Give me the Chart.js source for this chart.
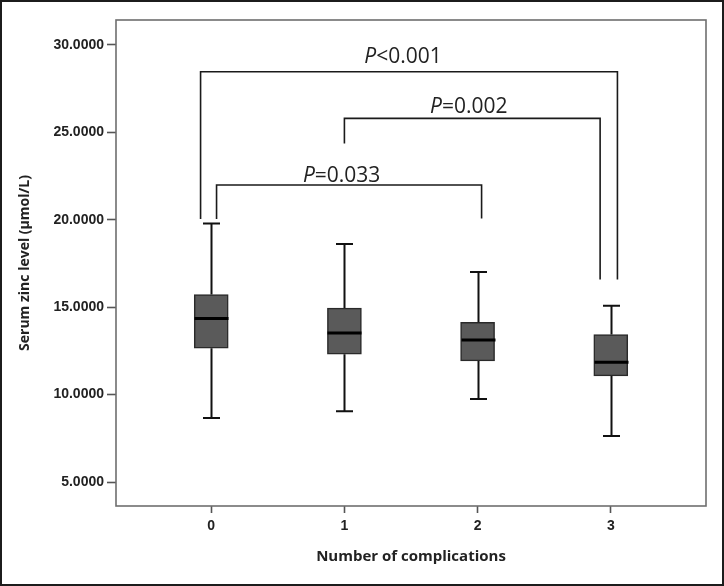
<!DOCTYPE html>
<html>
<head>
<meta charset="utf-8">
<script src="https://cdn.jsdelivr.net/npm/chart.js@4.4.1/dist/chart.umd.min.js"></script>
<style>
  html, body { margin: 0; padding: 0; background: #fff; }
  #wrap { width: 724px; height: 586px; }
</style>
</head>
<body>
<div id="wrap"><canvas id="zincChart" width="724" height="586"></canvas></div>
<script>
// box plot values
const categories = ['0', '1', '2', '3'];
const q1 = [12.66, 12.31, 11.93, 11.07];
const q3 = [15.73, 14.95, 14.14, 13.44];
const medians = [14.36, 13.53, 13.13, 11.85];
const whiskerLow = [8.67, 9.05, 9.75, 7.64];
const whiskerHigh = [19.79, 18.61, 17.02, 15.08];
const yTicks = [5, 10, 15, 20, 25, 30];

// significance brackets
const pNames = ['P', 'P', 'P'];
const pValues = ['=0.033', '=0.002', '<0.001'];
const bracketPairs = [[0, 2], [1, 3], [0, 3]];
const bracketLevels = [21.99, 25.80, 28.47];
const bracketLegEnds = [[20.04, 20.08], [24.37, 16.59], [20.04, 16.59]];

// layout of the annotations (x offsets in category units, label spots)
const bracketShift = [[0.04, 0.03], [0.0, -0.08], [-0.08, 0.05]];
const labelSpots = [[0.979, 22.18], [1.934, 26.09], [1.44, 28.95]];

const textColor = '#222';

const boxPlugin = {
    id: 'boxExtras',
    beforeDraw(chart) {
        const ctx = chart.ctx;
        ctx.save();
        ctx.fillStyle = '#fff';
        ctx.fillRect(0, 0, chart.width, chart.height);
        ctx.restore();
    },
    afterDatasetsDraw(chart) {
        const { ctx, chartArea: a } = chart;
        const x = chart.scales.x, y = chart.scales.y;

        ctx.save();
        // whiskers
        ctx.strokeStyle = '#111';
        ctx.lineWidth = 2;
        for (let i = 0; i < categories.length; i++) {
            const cx = Math.round(x.getPixelForValue(i)) + 0.5;
            const capHalf = 8.5;
            const yHi = y.getPixelForValue(whiskerHigh[i]);
            const yLo = y.getPixelForValue(whiskerLow[i]);
            ctx.beginPath();
            ctx.moveTo(cx, y.getPixelForValue(q3[i]));
            ctx.lineTo(cx, yHi);
            ctx.moveTo(cx - capHalf, yHi);
            ctx.lineTo(cx + capHalf, yHi);
            ctx.moveTo(cx, y.getPixelForValue(q1[i]));
            ctx.lineTo(cx, yLo);
            ctx.moveTo(cx - capHalf, yLo);
            ctx.lineTo(cx + capHalf, yLo);
            ctx.stroke();

            // median
            ctx.lineWidth = 3;
            ctx.strokeStyle = '#000';
            const ym = y.getPixelForValue(medians[i]);
            ctx.beginPath();
            ctx.moveTo(cx - 17, ym);
            ctx.lineTo(cx + 17, ym);
            ctx.stroke();
            ctx.lineWidth = 2;
            ctx.strokeStyle = '#111';
        }

        // brackets
        ctx.strokeStyle = '#1a1a1a';
        ctx.lineWidth = 1.6;
        for (let b = 0; b < bracketPairs.length; b++) {
            const xl = x.getPixelForValue(bracketPairs[b][0] + bracketShift[b][0]);
            const xr = x.getPixelForValue(bracketPairs[b][1] + bracketShift[b][1]);
            const yt = y.getPixelForValue(bracketLevels[b]);
            ctx.beginPath();
            ctx.moveTo(xl, y.getPixelForValue(bracketLegEnds[b][0]));
            ctx.lineTo(xl, yt);
            ctx.lineTo(xr, yt);
            ctx.lineTo(xr, y.getPixelForValue(bracketLegEnds[b][1]));
            ctx.stroke();

            // label: italic P then the value
            const fontUp = '21px "Open Sans", sans-serif';
            const fontIt = 'italic 21px "Open Sans", sans-serif';
            ctx.font = fontIt;
            const w1 = ctx.measureText(pNames[b]).width;
            ctx.font = fontUp;
            const w2 = ctx.measureText(pValues[b]).width;
            const lx = x.getPixelForValue(labelSpots[b][0]) - (w1 + w2) / 2;
            const ly = y.getPixelForValue(labelSpots[b][1]);
            ctx.fillStyle = textColor;
            ctx.textBaseline = 'alphabetic';
            ctx.textAlign = 'left';
            ctx.font = fontIt;
            ctx.fillText(pNames[b], lx, ly);
            ctx.font = fontUp;
            ctx.fillText(pValues[b], lx + w1, ly);
        }

        // plot frame
        ctx.strokeStyle = '#6e6e6e';
        ctx.lineWidth = 1.6;
        ctx.strokeRect(a.left, a.top, a.right - a.left, a.bottom - a.top);

        // outer picture border
        ctx.strokeStyle = '#1c1c1c';
        ctx.lineWidth = 2;
        ctx.strokeRect(1, 1, chart.width - 2, chart.height - 2);
        ctx.restore();
    }
};

const boxData = categories.map((c, i) => ({ x: i, y: [q1[i], q3[i]] }));

new Chart(document.getElementById('zincChart'), {
    type: 'bar',
    data: {
        datasets: [{
            data: boxData,
            backgroundColor: '#5a5a5a',
            borderColor: '#2a2a2a',
            borderWidth: 1.5,
            borderSkipped: false,
            barThickness: 34
        }]
    },
    options: {
        responsive: false,
        animation: false,
        layout: { padding: { left: 0, top: 20, right: 18, bottom: 0 } },
        plugins: {
            legend: { display: false },
            tooltip: { enabled: false }
        },
        scales: {
            x: {
                type: 'linear',
                offset: false,
                min: -0.715,
                max: 3.715,
                afterBuildTicks: (scale) => {
                    scale.ticks = categories.map((c, i) => ({ value: i }));
                },
                afterFit: (scale) => { scale.height = 80; },
                grid: {
                    offset: false,
                    drawOnChartArea: false,
                    drawTicks: true,
                    tickLength: 7,
                    tickWidth: 1.6,
                    tickColor: '#555'
                },
                border: { display: false },
                ticks: {
                    padding: 5,
                    color: textColor,
                    font: { family: '"Liberation Sans", Arial, sans-serif', size: 14, weight: 'bold' },
                    callback: (v) => categories[v]
                },
                title: {
                    display: true,
                    text: 'Number of complications',
                    color: textColor,
                    padding: { top: 0, bottom: 20 },
                    font: { family: '"Open Sans", sans-serif', size: 15, weight: 'bold' }
                }
            },
            y: {
                min: 3.63,
                max: 31.43,
                afterBuildTicks: (scale) => {
                    scale.ticks = yTicks.map(v => ({ value: v }));
                },
                afterFit: (scale) => { scale.width = 116; },
                grid: {
                    drawOnChartArea: false,
                    drawTicks: true,
                    tickLength: 9,
                    tickWidth: 1.6,
                    tickColor: '#555'
                },
                border: { display: false },
                ticks: {
                    padding: 3,
                    color: textColor,
                    font: { family: '"Liberation Sans", Arial, sans-serif', size: 14, weight: 'bold' },
                    callback: (v) => v.toFixed(4)
                },
                title: {
                    display: true,
                    text: 'Serum zinc level (µmol/L)',
                    color: textColor,
                    padding: { top: 17, bottom: 0 },
                    font: { family: '"Open Sans", sans-serif', size: 14, weight: 'bold' }
                }
            }
        }
    },
    plugins: [boxPlugin]
});
</script>
</body>
</html>
